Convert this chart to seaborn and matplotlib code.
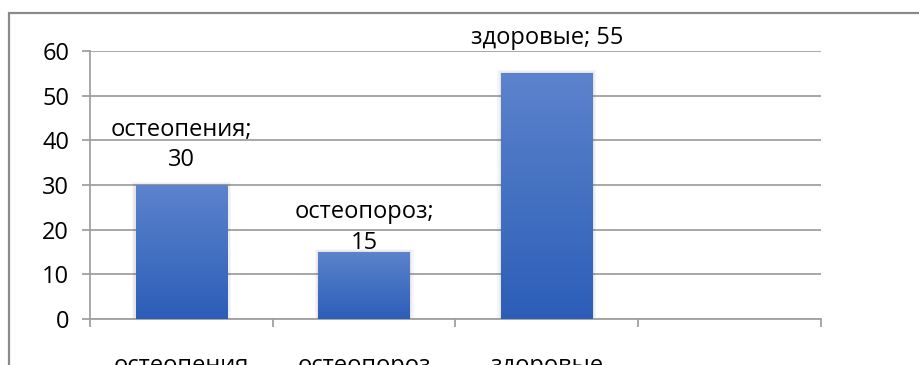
import numpy as np
import pandas as pd
import matplotlib
matplotlib.use("Agg")
import matplotlib.pyplot as plt
import seaborn as sns
from matplotlib.patches import Rectangle
from matplotlib.colors import LinearSegmentedColormap

# ---- data ----
categories = ["остеопения", "остеопороз", "здоровые"]
values = [30, 15, 55]
data_labels = ["остеопения;\n30", "остеопороз;\n15", "здоровые; 55"]
y_ticks = [0, 10, 20, 30, 40, 50, 60]

# ---- style ----
label_offsets_pt = [9, -2, 17]
grid_col = "#a0a0a0"
top_col = "#5c83cc"
bot_col = "#2c5eb8"
FS = 17

sns.set_theme(style="white")
plt.rcParams['font.family'] = ['Open Sans', 'DejaVu Sans']
plt.rcParams['text.color'] = 'black'

fig = plt.figure(figsize=(9.2, 3.65), dpi=100)
ax = fig.add_axes([90/920, 46/365, (821-90)/920, (319-51)/365])

df = pd.DataFrame({"cat": categories, "val": values})
sns.barplot(data=df, x="cat", y="val", order=categories, color=bot_col,
            width=0.5, saturation=1, ax=ax, zorder=3, linewidth=0, edgecolor="none")

cmap = LinearSegmentedColormap.from_list("g", [bot_col, top_col])
grad = np.linspace(0, 1, 256).reshape(-1, 1)
for p in list(ax.patches):
    x, w, h = p.get_x(), p.get_width(), p.get_height()
    # soft shadow
    for k in range(1, 4):
        d = 0.007 * k
        ax.add_patch(Rectangle((x - d, 0), w + 2*d, h + 0.25*k, facecolor="black",
                               alpha=0.035, edgecolor="none", zorder=2))
    im = ax.imshow(grad, extent=[x, x + w, 0, h], origin="lower", cmap=cmap,
                   aspect="auto", zorder=4)
    im.set_clip_path(p)

ax.set_xlim(-0.5, 3.5)
ax.set_ylim(0, 60)
ax.set_yticks(y_ticks)
ax.set_xlabel("")
ax.set_ylabel("")

# grid & spines
ax.yaxis.grid(True, color=grid_col, linewidth=1.3, zorder=0)
ax.set_axisbelow(True)
for s in ["top", "right"]:
    ax.spines[s].set_visible(False)
for s in ["left", "bottom"]:
    ax.spines[s].set_color(grid_col)
    ax.spines[s].set_linewidth(1.3)

ax.tick_params(axis="y", which="major", length=6, width=1.3, color=grid_col,
               pad=9, labelsize=FS, labelcolor="black", left=True)
ax.set_xticks(range(len(categories)))
ax.set_xticklabels(categories)
ax.set_xticks(np.arange(-0.5, 3.6, 1.0), minor=True)
ax.tick_params(axis="x", which="major", length=0, pad=25, labelsize=FS,
               labelcolor="black")
ax.tick_params(axis="x", which="minor", length=6, width=1.3, color=grid_col,
               bottom=True)
for t in ax.get_xticklabels():
    t.set_va("top")

# data labels
for i, (v, lab) in enumerate(zip(values, data_labels)):
    ax.annotate(lab, (i, v), xytext=(0, label_offsets_pt[i]), textcoords="offset points",
                ha="center", va="bottom", fontsize=FS, linespacing=1.35, color="black",
                annotation_clip=False, zorder=6)

# outer frame (cropped)
fig.patches.append(Rectangle((9/920, -0.5), 2.0, 0.5 + (1 - 13/365), transform=fig.transFigure,
                             fill=False, edgecolor="#8a8a8a", linewidth=1.6))

fig.savefig("out.png", dpi=100)
